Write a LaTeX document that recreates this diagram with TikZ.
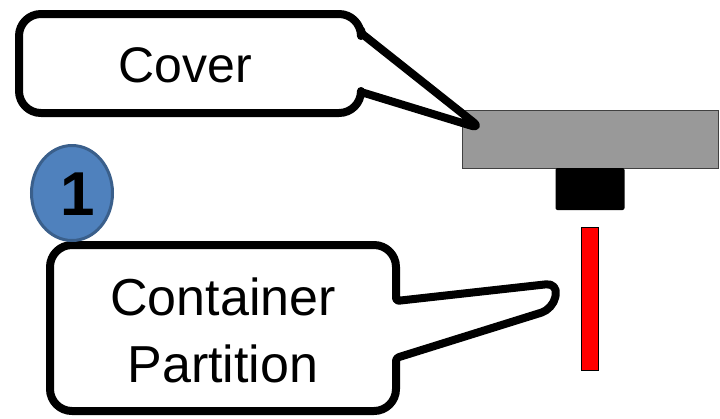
\documentclass[tikz,border=0pt]{standalone}
\usepackage{fontspec}
\setmainfont{Liberation Sans}
\usetikzlibrary{positioning,shapes.geometric}
\definecolor{coverGray}{HTML}{999999}
\definecolor{stepBlue}{HTML}{4F81BD}
\definecolor{stepEdge}{HTML}{3A5F8B}

\begin{document}
\begin{tikzpicture}[x=1pt,y=-1pt,
  callout/.style={draw=black,line width=8pt,fill=white,line join=round},
  part/.style={inner sep=0pt,outer sep=0pt}]
  \useasboundingbox (0,0) rectangle (720,418);
  % the parts
  \node[part,fill=coverGray,draw=black!75,line width=0.8pt,minimum width=256pt,minimum height=58pt] (cover) at (590,139) {};
  \node[part,fill=black,rounded corners=2pt,minimum width=69pt,minimum height=42pt,below=0pt of cover] (plug) {};
  \node[part,fill=red,draw=black,line width=0.6pt,minimum width=17pt,minimum height=143pt,below=17pt of plug] (partition) {};
  % the callout shapes
  \draw[callout,rounded corners=22pt] (19,113) -- (19,14) -- (361,14) [rounded corners=3pt] -- (361,33) [rounded corners=12pt] -- (482,129) [rounded corners=3pt] -- (361,92) [rounded corners=22pt] -- (361,113) -- cycle;
  \draw[callout,rounded corners=22pt] (50,411) -- (50,245) -- (396,245) [rounded corners=3pt] -- (396,301) [rounded corners=12pt] -- (558,283) -- (553,309) [rounded corners=3pt] -- (396,358) [rounded corners=22pt] -- (396,411) -- cycle;
  \node[anchor=base,inner sep=0pt,font=\fontsize{50}{58}\selectfont] (coverText) at (185,82) {Cover};
  \node[inner sep=0pt,align=center,font=\fontsize{52}{67}\selectfont] (partText) at (223,330) {Container\\Partition};
  % step marker
  \node[ellipse,fill=stepBlue,draw=stepEdge,line width=3pt,minimum width=81pt,minimum height=95pt,inner sep=0pt] (step1) at (72,193) {};
  \node[font=\bfseries\fontsize{62}{70}\selectfont,inner sep=0pt] (one) at (78,194) {1};
\end{tikzpicture}
\end{document}
